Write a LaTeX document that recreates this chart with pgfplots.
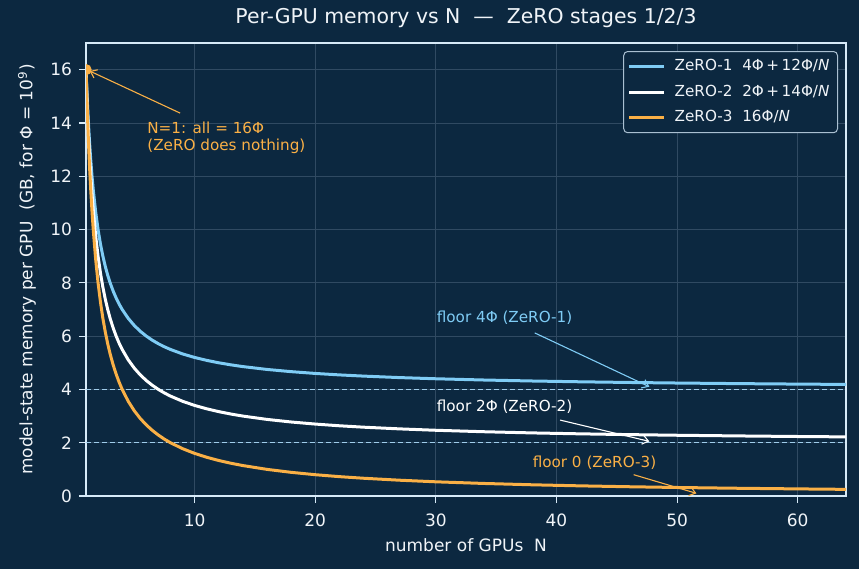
\documentclass[border=0pt]{standalone}
\usepackage{fontspec}
\setmainfont{DejaVu Sans}
\usepackage{pgfplots}
\pgfplotsset{compat=1.18}
\usepackage{pgfplotstable}
\usetikzlibrary{arrows.meta,backgrounds}

\definecolor{bg}{RGB}{12,40,64}
\definecolor{zone}{RGB}{127,204,245}
\definecolor{zthree}{RGB}{250,176,70}
\definecolor{framec}{RGB}{214,234,248}
\definecolor{gridc}{RGB}{48,74,98}
\definecolor{txt}{RGB}{240,244,248}
\definecolor{dashc}{RGB}{160,205,235}
\definecolor{legc}{RGB}{170,192,210}

\pgfplotstableread{
N z1 z2 z3
1 16 16 16
1.1 14.909 14.727 14.545
1.2 14 13.667 13.333
1.3 13.231 12.769 12.308
1.4 12.571 12 11.429
1.5 12 11.333 10.667
1.6 11.5 10.75 10
1.8 10.667 9.778 8.889
2 10 9 8
2.2 9.455 8.364 7.273
2.4 9 7.833 6.667
2.6 8.615 7.385 6.154
2.8 8.286 7 5.714
3 8 6.667 5.333
3.25 7.692 6.308 4.923
3.5 7.429 6 4.571
3.75 7.2 5.733 4.267
4 7 5.5 4
4.5 6.667 5.111 3.556
5 6.4 4.8 3.2
5.5 6.182 4.545 2.909
6 6 4.333 2.667
6.5 5.846 4.154 2.462
7 5.714 4 2.286
7.5 5.6 3.867 2.133
8 5.5 3.75 2
9 5.333 3.556 1.778
10 5.2 3.4 1.6
11 5.091 3.273 1.455
12 5 3.167 1.333
13 4.923 3.077 1.231
14 4.857 3 1.143
16 4.75 2.875 1
18 4.667 2.778 0.889
20 4.6 2.7 0.8
22 4.545 2.636 0.727
24 4.5 2.583 0.667
27 4.444 2.519 0.593
30 4.4 2.467 0.533
34 4.353 2.412 0.471
38 4.316 2.368 0.421
42 4.286 2.333 0.381
46 4.261 2.304 0.348
50 4.24 2.28 0.32
55 4.218 2.255 0.291
60 4.2 2.233 0.267
64 4.1875 2.219 0.25
}\data

\newcommand{\annfont}{\fontsize{7.6}{8.6}\selectfont}
\newcommand{\labfont}{\fontsize{8.5}{10}\selectfont}

\begin{document}
\begin{tikzpicture}
\begin{axis}[
  name=ax,
  scale only axis, width=380pt, height=226.5pt,
  xmin=1, xmax=64, ymin=0, ymax=17,
  xtick={10,20,...,60}, ytick={0,2,...,16},
  grid=major, major grid style={gridc, line width=0.4pt},
  axis line style={framec, line width=0.7pt},
  tick style={framec, line width=0.6pt},
  tick align=outside, major tick length=3.5pt,
  xtick pos=bottom, ytick pos=left,
  ticklabel style={font=\labfont, text=txt},
  xticklabel style={yshift=-2pt},
  /pgf/number format/assume math mode=true,
  xlabel={number of GPUs\ \ N},
  ylabel={model-state memory per GPU\ \ (GB, for Φ = 10\textsuperscript{9})},
  every axis x label/.style={at={(axis description cs:0.5,0)}, anchor=base, yshift=-27.5pt, font=\labfont, text=txt},
  every axis y label/.style={at={(axis description cs:0,0.5)}, anchor=center, rotate=90, yshift=29.5pt, font=\labfont, text=txt},
  title={Per-GPU memory vs N\ \ —\ \ ZeRO stages 1/2/3},
  title style={font=\fontsize{10.2}{12}\selectfont, text=txt, at={(axis description cs:0.5,1)}, anchor=base, yshift=4pt},
  legend style={at={(axis description cs:1,1)}, anchor=north east, xshift=-4pt, yshift=-4pt,
    fill=bg, draw=legc, line width=0.5pt, rounded corners=2pt, text=txt,
    font=\fontsize{7.6}{9}\selectfont, row sep=1.6pt, inner xsep=2pt, inner ysep=2pt,
    /tikz/every odd column/.append style={column sep=2.5pt}},
  legend cell align=left,
  legend image code/.code={\draw[#1, line width=1.5pt] (0pt,0pt) -- (17.5pt,0pt);},
  clip mode=individual,
  clip marker paths=true,
]
\addplot[dashc, line width=0.55pt, dash pattern=on 2.6pt off 1.4pt, forget plot] coordinates {(1,4) (64,4)};
\addplot[dashc, line width=0.55pt, dash pattern=on 2.6pt off 1.4pt, forget plot] coordinates {(1,2) (64,2)};
\addplot[zone, line width=1.5pt] table[x=N, y=z1] {\data};
\addlegendentry{ZeRO-1\ \ 4Φ\,+\,12Φ/\textit{N}}
\addplot[white, line width=1.5pt] table[x=N, y=z2] {\data};
\addlegendentry{ZeRO-2\ \ 2Φ\,+\,14Φ/\textit{N}}
\addplot[zthree, line width=1.5pt] table[x=N, y=z3] {\data};
\addlegendentry{ZeRO-3\ \ 16Φ/\textit{N}}
\addplot[only marks, mark=*, mark size=2.6pt, zthree, forget plot] coordinates {(1,16)};

\node[anchor=north west, inner sep=0, align=left, text=zthree, font=\annfont] at (axis cs:6.05,14.07) {N=1: all = 16Φ\\(ZeRO does nothing)};
\draw[zthree, line width=0.55pt, -{Straight Barb[length=3pt,width=4.5pt]}] (axis cs:8.8,14.37) -- (axis cs:1.3,15.95);

\node[anchor=west, inner sep=0, text=zone, font=\annfont] at (axis cs:30.05,6.68) {floor 4Φ (ZeRO-1)};
\draw[zone, line width=0.55pt, -{Straight Barb[length=3pt,width=4.5pt]}] (axis cs:38.2,6.12) -- (axis cs:47.7,4.1);

\node[anchor=west, inner sep=0, text=white, font=\annfont] at (axis cs:30.05,3.36) {floor 2Φ (ZeRO-2)};
\draw[white, line width=0.55pt, -{Straight Barb[length=3pt,width=4.5pt]}] (axis cs:40.3,2.85) -- (axis cs:47.7,2.05);

\node[anchor=west, inner sep=0, text=zthree, font=\annfont] at (axis cs:38.0,1.25) {floor 0 (ZeRO-3)};
\draw[zthree, line width=0.55pt, -{Straight Barb[length=3pt,width=4.5pt]}] (axis cs:46.4,0.8) -- (axis cs:51.6,0.1);
\end{axis}
\pgfresetboundingbox
\path[use as bounding box] ([shift={(-43pt,-36.5pt)}]ax.south west) rectangle ([shift={(6.5pt,21.5pt)}]ax.north east);
\begin{scope}[on background layer]
\fill[bg] ([shift={(-43pt,-36.5pt)}]ax.south west) rectangle ([shift={(6.5pt,21.5pt)}]ax.north east);
\end{scope}
\end{tikzpicture}
\end{document}
